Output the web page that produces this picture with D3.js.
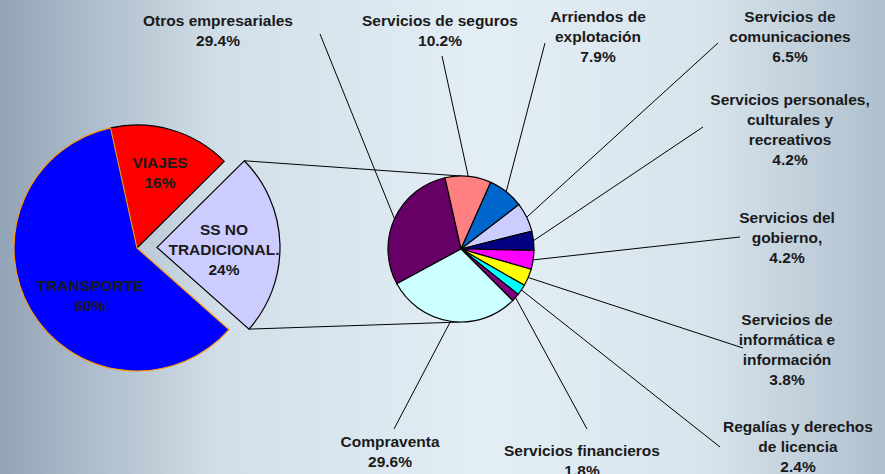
<!DOCTYPE html>
<html lang="es">
<head>
  <meta charset="UTF-8">
  <title>Servicios</title>
  <script src="https://d3js.org/d3.v7.min.js"></script>
  <style>
    body { margin: 0; }
    svg { display: block; font-family: "Liberation Sans", Arial, sans-serif; }
  </style>
</head>
<body>
<div id="chartID"></div>
<script>
  // main pie
  var mainNames = ["VIAJES", "SS NO TRADICIONAL.", "TRANSPORTE"];
  var mainLines = [["VIAJES", "16%"], ["SS NO", "TRADICIONAL.", "24%"], ["TRANSPORTE", "60%"]];
  var mainValues = [16, 24, 60];
  var mainColors = ["#ff0000", "#ccccff", "#0000ff"];

  // secondary pie (breakdown of SS NO TRADICIONAL)
  var subNames = ["Otros empresariales", "Servicios de seguros", "Arriendos de explotación",
                  "Servicios de comunicaciones", "Servicios personales, culturales y recreativos",
                  "Servicios del gobierno,", "Servicios de informática e información",
                  "Regalías y derechos de licencia", "Servicios financieros", "Compraventa"];
  var subValues = [29.4, 10.2, 7.9, 6.5, 4.2, 4.2, 3.8, 2.4, 1.8, 29.6];
  var subColors = ["#660066", "#ff8080", "#0066cc", "#ccccff", "#000080",
                   "#ff00ff", "#ffff00", "#00ffff", "#800080", "#ccffff"];
  var subLines = [["Otros empresariales", "29.4%"], ["Servicios de seguros", "10.2%"],
                  ["Arriendos de", "explotación", "7.9%"], ["Servicios de", "comunicaciones", "6.5%"],
                  ["Servicios personales,", "culturales y", "recreativos", "4.2%"],
                  ["Servicios del", "gobierno,", "4.2%"],
                  ["Servicios de", "informática e", "información", "3.8%"],
                  ["Regalías y derechos", "de licencia", "2.4%"],
                  ["Servicios financieros", "1.8%"], ["Compraventa", "29.6%"]];

  // label layout: text center, first line y, leader start
  var subLabelPos = [
    {x: 218, y: 21, lx: 320, ly: 34},
    {x: 440, y: 21, lx: 442, ly: 56},
    {x: 598, y: 17, lx: 545, ly: 43},
    {x: 790, y: 17, lx: 718, ly: 43},
    {x: 790, y: 100, lx: 703, ly: 127},
    {x: 787, y: 218, lx: 740, ly: 237},
    {x: 787, y: 320, lx: 743, ly: 348},
    {x: 798, y: 427, lx: 720, ly: 447},
    {x: 582, y: 451, lx: 587, ly: 429},
    {x: 390, y: 442, lx: 394, ly: 429}
  ];
  var mainLabelPos = [{x: 160, y: 163}, {x: 224, y: 230}, {x: 90, y: 286}];

  var width = 885, height = 474;
  var lineH = 20;

  var svg = d3.select("#chartID").append("svg")
    .attr("width", width)
    .attr("height", height);

  var grad = svg.append("defs").append("linearGradient")
    .attr("id", "bg").attr("x1", "0%").attr("x2", "100%").attr("y1", "0%").attr("y2", "0%");
  grad.append("stop").attr("offset", "0%").attr("stop-color", "#93a4b6");
  grad.append("stop").attr("offset", "25%").attr("stop-color", "#d2dfe8");
  grad.append("stop").attr("offset", "55%").attr("stop-color", "#e3eef5");
  grad.append("stop").attr("offset", "80%").attr("stop-color", "#d8e4ec");
  grad.append("stop").attr("offset", "100%").attr("stop-color", "#aebfcd");
  svg.append("rect").attr("width", width).attr("height", height).attr("fill", "url(#bg)");

  // ---- main pie
  var mainR = 123, mainCx = 137, mainCy = 248, explode = 20;
  var mainPie = d3.pie().sort(null).value(function(d) { return d; })
    .startAngle(-12.4 * Math.PI / 180).endAngle(2 * Math.PI - 12.4 * Math.PI / 180);
  var mainArcs = mainPie(mainValues);
  var mainArc = d3.arc().innerRadius(0).outerRadius(mainR);

  var gMain = svg.append("g").attr("transform", "translate(" + mainCx + "," + mainCy + ")");

  function offset(d, i) {
    if (i != 1) return [0, 0];
    var a = (d.startAngle + d.endAngle) / 2;
    return [explode * Math.sin(a), -explode * Math.cos(a)];
  }

  gMain.selectAll(".slice")
    .data(mainArcs)
    .enter()
    .append("path")
    .attr("class", "slice")
    .attr("transform", function(d, i) { var o = offset(d, i); return "translate(" + o[0] + "," + o[1] + ")"; })
    .attr("d", mainArc)
    .attr("fill", function(d, i) { return mainColors[i]; })
    .attr("stroke", function(d, i) { return i == 2 ? "#ff9900" : "#000"; })
    .attr("stroke-width", 1.2);

  // ---- secondary pie
  var subR = 73, subCx = 461, subCy = 249;
  var subStart = 241.5 * Math.PI / 180;
  var subPie = d3.pie().sort(null).value(function(d) { return d; })
    .startAngle(subStart).endAngle(subStart + 2 * Math.PI);
  var subArcs = subPie(subValues);
  var subArc = d3.arc().innerRadius(0).outerRadius(subR);

  // connector lines from exploded slice to top/bottom of secondary pie
  var ss = mainArcs[1], so = offset(ss, 1);
  [ss.startAngle, ss.endAngle].forEach(function(a, k) {
    var x1 = mainCx + so[0] + mainR * Math.sin(a);
    var y1 = mainCy + so[1] - mainR * Math.cos(a);
    svg.append("line")
      .attr("x1", x1).attr("y1", y1)
      .attr("x2", subCx).attr("y2", k == 0 ? subCy - subR : subCy + subR)
      .attr("stroke", "#000").attr("stroke-width", 1);
  });

  var gSub = svg.append("g").attr("transform", "translate(" + subCx + "," + subCy + ")");

  // leader lines
  svg.selectAll(".leader")
    .data(subArcs)
    .enter()
    .append("polyline")
    .attr("class", "leader")
    .attr("fill", "none")
    .attr("stroke", "#000")
    .attr("stroke-width", 1)
    .attr("points", function(d, i) {
      var a = (d.startAngle + d.endAngle) / 2;
      var p = subLabelPos[i];
      var ex = subCx + subR * Math.sin(a), ey = subCy - subR * Math.cos(a);
      return p.lx + "," + p.ly + " " + ex + "," + ey;
    });

  gSub.selectAll(".slice")
    .data(subArcs)
    .enter()
    .append("path")
    .attr("class", "slice")
    .attr("d", subArc)
    .attr("fill", function(d, i) { return subColors[i]; })
    .attr("stroke", "#000")
    .attr("stroke-width", 1.2);

  // ---- labels
  function drawLabel(lines, p) {
    var t = svg.append("text")
      .attr("text-anchor", "middle")
      .attr("font-size", 15.5)
      .attr("font-weight", "bold")
      .attr("fill", "#1a1a1a");
    lines.forEach(function(s, k) {
      t.append("tspan").attr("x", p.x).attr("y", p.y + k * lineH).attr("dy", "0.35em").text(s);
    });
  }

  subLines.forEach(function(l, i) { drawLabel(l, subLabelPos[i]); });
  mainLines.forEach(function(l, i) { drawLabel(l, mainLabelPos[i]); });
</script>
</body>
</html>
